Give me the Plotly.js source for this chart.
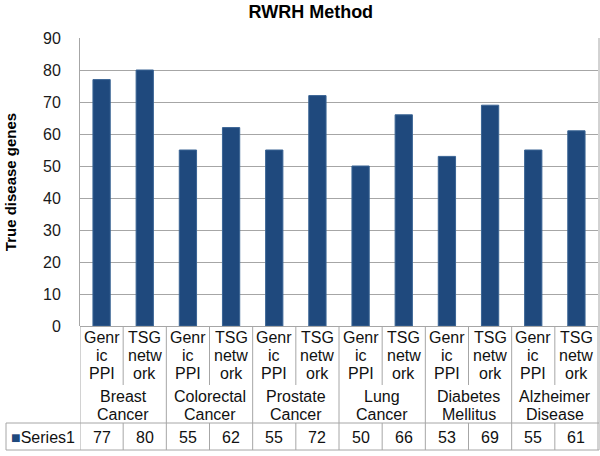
<!DOCTYPE html>
<html><head><meta charset="utf-8">
<script src="https://cdn.plot.ly/plotly-3.0.1.min.js"></script>
<style>html,body{margin:0;padding:0;background:#fff}#c{width:600px;height:456px}</style>
</head><body><div id="c"></div>
<script>
const groups = ["Breast<br>Cancer","Colorectal<br>Cancer","Prostate<br>Cancer","Lung<br>Cancer","Diabetes<br>Mellitus","Alzheimer<br>Disease"];
const subLabels = ["Genr<br>ic<br>PPI","TSG<br>netw<br>ork"];
const seriesName = "Series1";
const values = [77,80,55,62,55,72,50,66,53,69,55,61];
const yTicks = [0,10,20,30,40,50,60,70,80,90];

const W=600,H=456,ML=80,MR=2,MT=38,MB=130;
const PH=H-MT-MB, PW=W-ML-MR;
const py=(p)=> (H-MB-p)/PH;      // pixel y -> paper y
const pxp=(p)=> (p-ML)/PW;       // pixel x -> paper x
const xs = values.map((v,i)=>i);
const col="#1F497D", lineCol="#A6A6A6", txt="#111";
const font="Liberation Sans";
const FS=16;

const shapes=[], ann=[];
function line(x0,y0,x1,y1,xref){shapes.push({type:'line',xref:xref||'x',yref:'paper',x0:x0,x1:x1,y0:y0,y1:y1,line:{color:lineCol,width:1}});}
function txtAt(x,xref,yPix,text,xanchor){
  ann.push({x:x,y:py(yPix),xref:xref,yref:'paper',xanchor:xanchor||'center',yanchor:'middle',showarrow:false,text:text,
    font:{family:font,size:FS,color:txt}});
}
const n=values.length;
for(let i=0;i<=n;i++){
  const xb=i-0.5;
  if(i%2===0){ line(xb,py(326),xb,py(450)); }
  else { line(xb,py(326),xb,py(385)); line(xb,py(423),xb,py(450)); }
}
line(pxp(6),py(423),pxp(599),py(423),'paper');
line(pxp(6),py(450),pxp(599),py(450),'paper');
line(pxp(6),py(423),pxp(6),py(450),'paper');
line(pxp(599),py(38),pxp(599),py(450),'paper');

const subY=[337,355,373], grpY=[396,414];
xs.forEach((x,i)=>{
  subLabels[i%2].split('<br>').forEach((s,j)=>txtAt(x,'x',subY[j],s));
  txtAt(x,'x',437,String(values[i]));
});
groups.forEach((g,k)=>{
  g.split('<br>').forEach((s,j)=>txtAt(2*k+0.5,'x',grpY[j],s));
});
txtAt(pxp(9),'paper',437,'<span style="color:'+col+'">■</span>'+seriesName,'left');

Plotly.newPlot('c',[{
  type:'bar',x:xs,y:values,width:0.4,name:seriesName,
  marker:{color:col,line:{color:'#3a6494',width:1}},hoverinfo:'y'
}],{
  width:W,height:H,margin:{l:ML,r:MR,t:MT,b:MB},
  paper_bgcolor:'#fff',plot_bgcolor:'#fff',showlegend:false,
  title:{text:'<b>RWRH Method</b>',x:0.518,xanchor:'center',y:0.975,yanchor:'middle',font:{family:font,size:18,color:'#000'}},
  xaxis:{range:[-0.5,n-0.5],showticklabels:false,ticks:'',showgrid:false,zeroline:false,showline:false,fixedrange:true},
  yaxis:{range:[0,90],tickvals:yTicks,ticktext:yTicks.map(String),showgrid:true,gridcolor:lineCol,gridwidth:1,
    zeroline:true,zerolinecolor:lineCol,showline:true,linecolor:lineCol,ticks:'',ticklen:0,
    tickfont:{family:font,size:16,color:'#1a1a1a'},ticklabelstandoff:15,
    title:{text:'<b>True disease genes</b>',font:{family:font,size:15,color:'#000'},standoff:22}},
  shapes:shapes,annotations:ann
},{displayModeBar:false,staticPlot:true});
</script></body></html>
